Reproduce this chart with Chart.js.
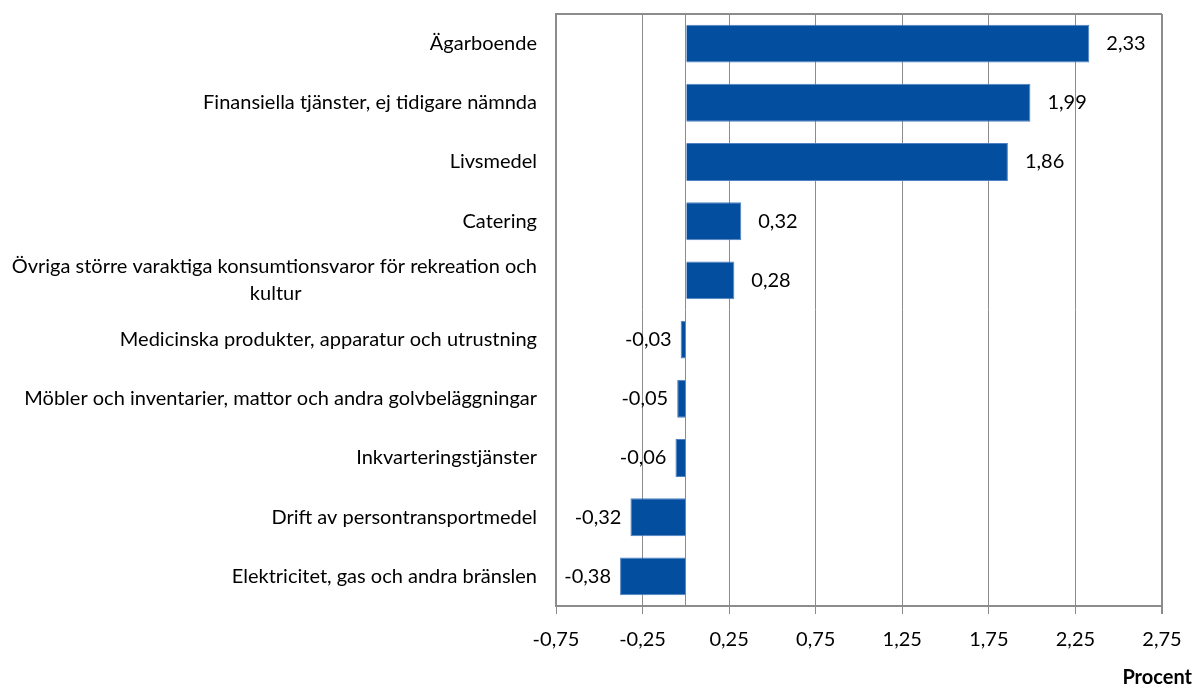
<!DOCTYPE html>
<html>
<head>
<meta charset="utf-8">
<script src="https://cdn.jsdelivr.net/npm/chart.js@4/dist/chart.umd.min.js"></script>
<style>
  html, body { margin: 0; padding: 0; background: #fff; }
  canvas { display: block; }
</style>
</head>
<body>
<canvas id="chart" width="1194" height="690"></canvas>
<script>
// --- Data ---
const categories = [
    'Ägarboende',
    'Finansiella tjänster, ej tidigare nämnda',
    'Livsmedel',
    'Catering',
    ['Övriga större varaktiga konsumtionsvaror för rekreation och', 'kultur'],
    'Medicinska produkter, apparatur och utrustning',
    'Möbler och inventarier, mattor och andra golvbeläggningar',
    'Inkvarteringstjänster',
    'Drift av persontransportmedel',
    'Elektricitet, gas och andra bränslen'
];
const values = [2.33, 1.99, 1.86, 0.32, 0.28, -0.03, -0.05, -0.06, -0.32, -0.38];
const xTicks = [-0.75, -0.25, 0.25, 0.75, 1.25, 1.75, 2.25, 2.75];
const unitLabel = 'Procent';

// --- Styles ---
const FONT = 'Lato';
const FONT_SIZE = 20;
const GRID = '#8c8c8c';
const BAR = '#044ea0';

// decimal comma, Swedish style
function fmt(v) {
    return v.toFixed(2).replace('.', ',');
}

// Centre the lines of a wrapped label inside its right-aligned block
const measureCtx = document.createElement('canvas').getContext('2d');
function centerLines(label) {
    if (!Array.isArray(label)) return label;
    measureCtx.font = FONT_SIZE + 'px ' + FONT;
    const widths = label.map(l => measureCtx.measureText(l).width);
    const maxW = Math.max(...widths);
    const spaceW = measureCtx.measureText(' ').width;
    return label.map((l, i) => l + ' '.repeat(Math.round((maxW - widths[i]) / 2 / spaceW)));
}

// --- Value labels next to the bar ends ---
const valueLabels = {
    id: 'valueLabels',
    afterDatasetsDraw(chart) {
        const ctx = chart.ctx;
        const meta = chart.getDatasetMeta(0);
        ctx.save();
        ctx.font = FONT_SIZE + 'px ' + FONT;
        ctx.fillStyle = '#000';
        ctx.textBaseline = 'middle';
        meta.data.forEach((bar, i) => {
            const v = values[i];
            if (v >= 0) {
                ctx.textAlign = 'left';
                ctx.fillText(fmt(v), bar.x + 17, bar.y);
            } else {
                ctx.textAlign = 'right';
                ctx.fillText(fmt(v), bar.x - 9, bar.y);
            }
        });
        ctx.restore();
    }
};

new Chart(document.getElementById('chart'), {
    type: 'bar',
    data: {
        labels: categories,
        datasets: [{
            data: values,
            backgroundColor: BAR,
            borderColor: '#4f80c0',
            borderWidth: 1,
            barPercentage: 0.64,
            categoryPercentage: 1
        }]
    },
    options: {
        indexAxis: 'y',
        responsive: false,
        animation: false,
        devicePixelRatio: 1,
        layout: { padding: { top: 14, left: 0, right: 2, bottom: 0 } },
        plugins: {
            legend: { display: false },
            tooltip: { enabled: false },
            title: {
                display: true,
                text: unitLabel,
                position: 'bottom',
                align: 'end',
                color: '#000',
                font: { family: FONT, size: FONT_SIZE, weight: 'bold' },
                padding: { top: 0, bottom: 0 }
            }
        },
        scales: {
            x: {
                type: 'linear',
                min: xTicks[0],
                max: xTicks[xTicks.length - 1],
                afterBuildTicks: scale => {
                    // zero gets a grid line (the category axis) but no label
                    scale.ticks = xTicks.concat([0]).sort((a, b) => a - b).map(v => ({ value: v }));
                },
                afterFit: scale => { scale.paddingRight = 32; },
                ticks: {
                    callback: v => (v === 0 ? '' : fmt(v)),
                    color: '#000',
                    font: { family: FONT, size: FONT_SIZE },
                    padding: 14,
                    maxRotation: 0
                },
                grid: {
                    color: GRID,
                    lineWidth: ctx => (ctx.index === xTicks.length ? 2 : 1),
                    tickLength: 8,
                    tickColor: ctx => (ctx.tick && ctx.tick.value === 0 ? 'rgba(0,0,0,0)' : GRID)
                },
                border: { display: true, color: GRID, width: 2 }
            },
            y: {
                type: 'category',
                afterFit: scale => {
                    scale.width = 556;
                    scale.paddingTop = 0;
                    scale.paddingBottom = 0;
                },
                ticks: {
                    callback: function(value, index) { return centerLines(categories[index]); },
                    color: '#000',
                    font: { family: FONT, size: FONT_SIZE, lineHeight: 1.35 },
                    padding: 19,
                    autoSkip: false
                },
                grid: {
                    drawTicks: false,
                    color: ctx => (ctx.index === 0 ? GRID : 'rgba(0,0,0,0)'),
                    lineWidth: 2
                },
                border: { display: true, color: GRID, width: 2 }
            }
        }
    },
    plugins: [valueLabels]
});
</script>
</body>
</html>
